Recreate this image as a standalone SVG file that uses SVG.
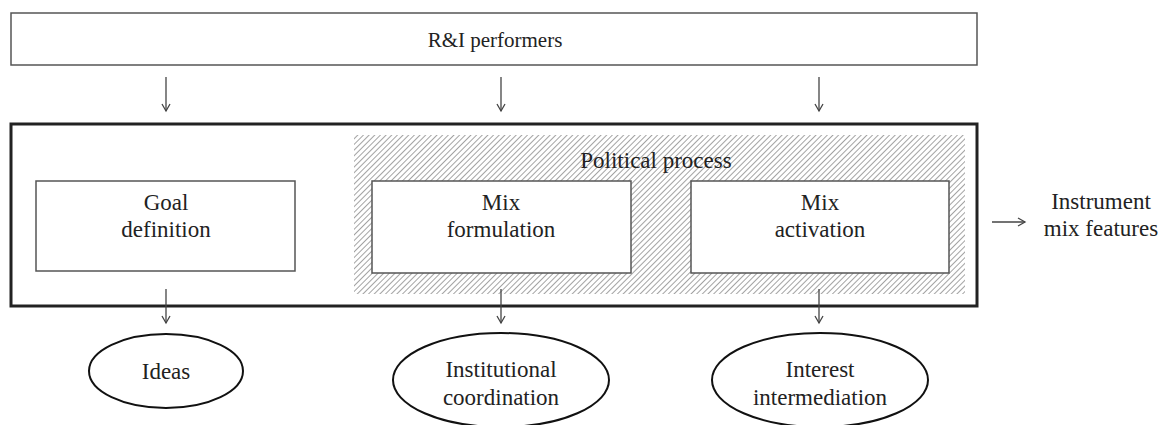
<svg xmlns="http://www.w3.org/2000/svg" width="1158" height="425" viewBox="0 0 1158 425">
<style>
text{font-family:"Liberation Serif","DejaVu Serif","Times New Roman",serif;font-size:23px;fill:#222;text-anchor:middle}
.box{fill:#fff;stroke:#555;stroke-width:1.5}
.ell{fill:#fff;stroke:#111;stroke-width:2}
.arr{stroke:#444;stroke-width:1.3;fill:none;marker-end:url(#ah)}
</style>
<defs>
<marker id="ah" markerWidth="10" markerHeight="10" refX="8" refY="5" orient="auto" markerUnits="userSpaceOnUse">
<path d="M1,1 L8,5 L1,9" fill="none" stroke="#444" stroke-width="1.3"/>
</marker>
<pattern id="hatch" width="4" height="4" patternUnits="userSpaceOnUse" patternTransform="rotate(45)">
<rect width="4" height="4" fill="#fff"/>
<line x1="0" y1="0" x2="0" y2="4" stroke="#999" stroke-width="1.8"/>
</pattern>
</defs>
<g id="performers">
<rect class="box" x="11" y="13" width="966" height="52"/>
<text x="495" y="47" style="font-size:21px">R&amp;I performers</text>
</g>
<g id="frame">
<rect x="11" y="124" width="966" height="182" fill="#fff" stroke="#222" stroke-width="3"/>
</g>
<g id="political">
<rect x="354" y="135" width="611" height="159" fill="url(#hatch)"/>
<text x="656" y="168">Political process</text>
</g>
<g id="goal">
<rect class="box" x="36" y="181" width="259" height="90"/>
<text x="166" y="210">Goal</text>
<text x="166" y="237">definition</text>
</g>
<g id="formulation">
<rect class="box" x="372" y="181" width="259" height="92"/>
<text x="501" y="210">Mix</text>
<text x="501" y="237">formulation</text>
</g>
<g id="activation">
<rect class="box" x="691" y="181" width="258" height="92"/>
<text x="820" y="210">Mix</text>
<text x="820" y="237">activation</text>
</g>
<g id="features">
<text x="1101" y="209">Instrument</text>
<text x="1101" y="236">mix features</text>
</g>
<g id="ideas">
<ellipse class="ell" cx="166" cy="371" rx="77" ry="37"/>
<text x="166" y="379">Ideas</text>
</g>
<g id="institutional">
<ellipse class="ell" cx="501" cy="380" rx="108" ry="47"/>
<text x="501" y="377">Institutional</text>
<text x="501" y="405">coordination</text>
</g>
<g id="interest">
<ellipse class="ell" cx="820" cy="380" rx="108" ry="47"/>
<text x="820" y="377">Interest</text>
<text x="820" y="405">intermediation</text>
</g>
<g id="connectors">
<line class="arr" x1="166" y1="77" x2="166" y2="111"/>
<line class="arr" x1="501" y1="77" x2="501" y2="111"/>
<line class="arr" x1="819" y1="77" x2="819" y2="111"/>
<line class="arr" x1="166" y1="289" x2="166" y2="323"/>
<line class="arr" x1="501" y1="289" x2="501" y2="323"/>
<line class="arr" x1="819" y1="289" x2="819" y2="323"/>
<line class="arr" x1="992" y1="222" x2="1025" y2="222"/>
</g>
</svg>
